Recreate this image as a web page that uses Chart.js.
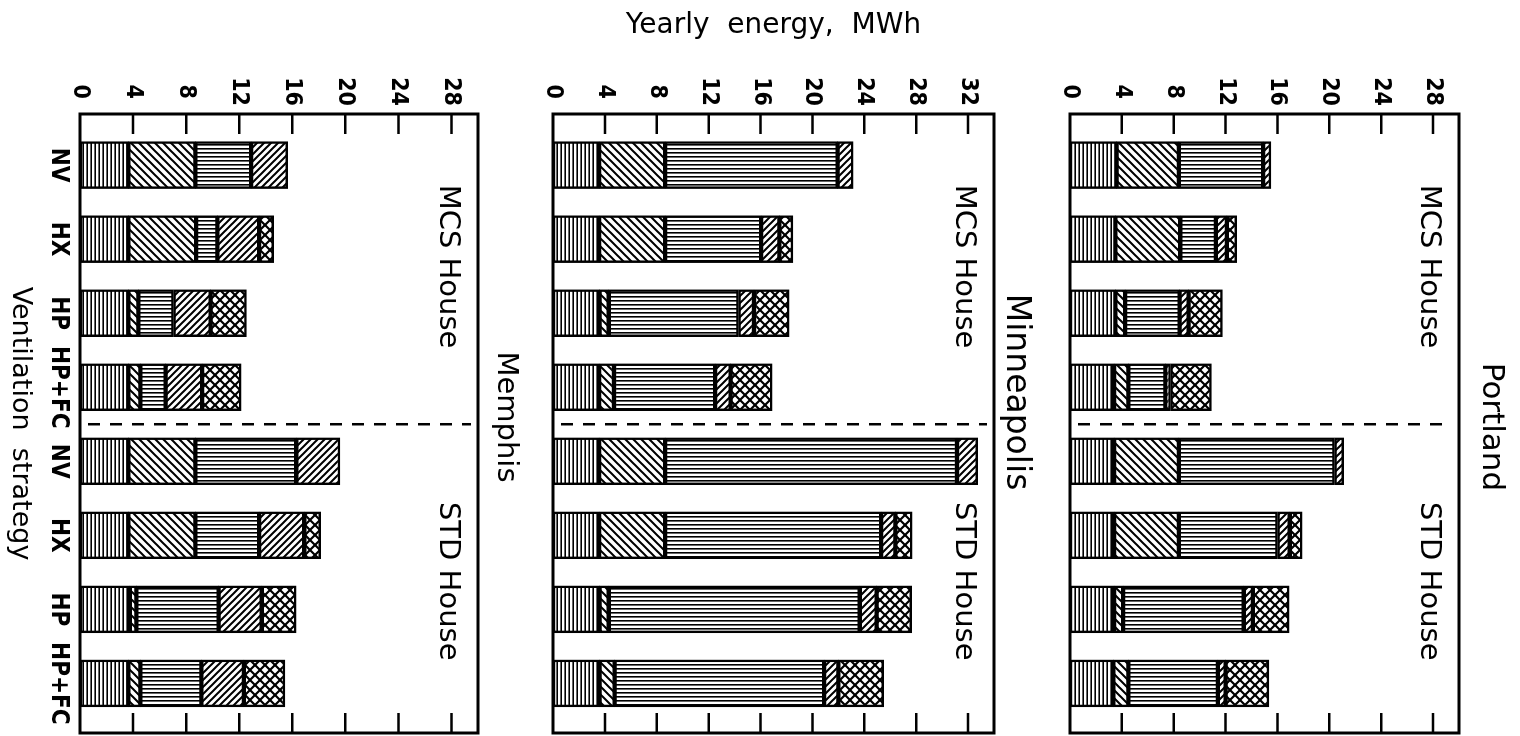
<!DOCTYPE html>
<html>
<head>
<meta charset="utf-8">
<title>Yearly energy by ventilation strategy</title>
<script src="https://cdn.jsdelivr.net/npm/chart.js@4.4.1/dist/chart.umd.min.js"></script>
<style>
  html, body { margin: 0; padding: 0; background: #fff; overflow: hidden; }
  /* the figure is laid out upright and turned a quarter turn clockwise */
  #sheet { position: absolute; left: 0; top: 0; width: 736px; height: 1520px;
           transform-origin: 0 0; transform: translateX(1520px) rotate(90deg); }
  #sheet canvas { position: absolute; left: 0; }
</style>
</head>
<body>
<div id="sheet">
  <canvas id="portland" width="736" height="490" style="top:0px"></canvas>
  <canvas id="minneapolis" width="736" height="530" style="top:470px"></canvas>
  <canvas id="memphis" width="736" height="540" style="top:980px"></canvas>
</div>
<script>
const strategies = ['NV', 'HX', 'HP', 'HP+FC', 'NV', 'HX', 'HP', 'HP+FC'];
const houses = ['MCS House', 'STD House'];

// yearly energy parts, MWh, bottom to top of each stack
const portland1 = [3.6, 3.5, 3.5, 3.4, 3.4, 3.4, 3.4, 3.35];
const portland2 = [4.8, 5.0, 0.75, 1.1, 5.0, 5.0, 0.7, 1.15];
const portland3 = [6.5, 2.75, 4.2, 2.85, 12.0, 7.6, 9.3, 6.9];
const portland4 = [0.6, 0.85, 0.7, 0.4, 0.7, 0.95, 0.7, 0.6];
const portland5 = [0, 0.75, 2.6, 3.15, 0, 0.95, 2.8, 3.35];

const minneapolis1 = [3.55, 3.55, 3.6, 3.55, 3.55, 3.55, 3.6, 3.6];
const minneapolis2 = [5.1, 5.1, 0.7, 1.15, 5.1, 5.1, 0.7, 1.15];
const minneapolis3 = [13.3, 7.4, 10.0, 7.8, 22.5, 16.65, 19.35, 16.15];
const minneapolis4 = [1.2, 1.4, 1.2, 1.2, 1.6, 1.1, 1.3, 1.1];
const minneapolis5 = [0, 1.05, 2.7, 3.2, 0, 1.3, 2.7, 3.5];

const memphis1 = [3.65, 3.65, 3.65, 3.65, 3.65, 3.65, 3.75, 3.65];
const memphis2 = [5.05, 5.1, 0.75, 0.9, 5.05, 5.05, 0.5, 0.9];
const memphis3 = [4.2, 1.6, 2.65, 1.9, 7.6, 4.8, 6.2, 4.6];
const memphis4 = [2.75, 3.15, 2.8, 2.75, 3.3, 3.4, 3.25, 3.2];
const memphis5 = [0, 1.1, 2.7, 2.95, 0, 1.25, 2.6, 3.1];

const narrowBold = "'Liberation Sans Narrow', 'DejaVu Sans Condensed', sans-serif";
const plainFont = "'DejaVu Sans', sans-serif";

// hatch fills, one per stack part
function makePattern(kind) {
    const size = { hlines: 4, vlines: 4, rise: 8, fall: 7, cross: 10 }[kind];
    const tile = document.createElement('canvas');
    tile.width = size;
    tile.height = size;
    const c = tile.getContext('2d');
    c.fillStyle = '#fff';
    c.fillRect(0, 0, size, size);
    c.fillStyle = '#000';
    c.strokeStyle = '#000';
    c.lineWidth = kind === 'cross' ? 2.2 : 2;
    const rise = () => {
        c.beginPath();
        c.moveTo(0, size); c.lineTo(size, 0);
        c.moveTo(-1, 1); c.lineTo(1, -1);
        c.moveTo(size - 1, size + 1); c.lineTo(size + 1, size - 1);
        c.stroke();
    };
    const fall = () => {
        c.beginPath();
        c.moveTo(0, 0); c.lineTo(size, size);
        c.moveTo(size - 1, -1); c.lineTo(size + 1, 1);
        c.moveTo(-1, size - 1); c.lineTo(1, size + 1);
        c.stroke();
    };
    if (kind === 'hlines') c.fillRect(0, 0, size, 1.6);
    if (kind === 'vlines') c.fillRect(0, 0, 1.6, size);
    if (kind === 'rise') rise();
    if (kind === 'fall') fall();
    if (kind === 'cross') { rise(); fall(); }
    return c.createPattern(tile, 'repeat');
}

const fills = ['hlines', 'rise', 'vlines', 'fall', 'cross'].map(makePattern);

// frame, inward tick marks, house divider and captions
const panelDecor = {
    id: 'panelDecor',
    afterDatasetsDraw(chart, args, opts) {
        const { ctx, chartArea: a, scales: { x, y } } = chart;
        ctx.save();
        ctx.strokeStyle = '#000';
        ctx.fillStyle = '#000';
        ctx.lineWidth = 3;
        ctx.strokeRect(a.left, a.top, a.width, a.height);

        ctx.lineWidth = 2.5;
        y.ticks.forEach(t => {
            if (t.value <= y.min || t.value >= y.max) return;
            const py = y.getPixelForValue(t.value);
            const len = t.value % 4 === 0 ? 20 : 9;
            ctx.beginPath();
            ctx.moveTo(a.left, py); ctx.lineTo(a.left + len, py);
            ctx.moveTo(a.right, py); ctx.lineTo(a.right - len, py);
            ctx.stroke();
        });

        const px = x.getPixelForValue(3.5);
        ctx.setLineDash([12, 10]);
        ctx.beginPath();
        ctx.moveTo(px, a.bottom - 8);
        ctx.lineTo(px, a.top + 7);
        ctx.stroke();
        ctx.setLineDash([]);

        ctx.textAlign = 'center';
        ctx.textBaseline = 'middle';
        ctx.font = '29px ' + plainFont;
        ctx.fillText(houses[0], x.getPixelForValue(1.37), a.top + 30);
        ctx.fillText(houses[1], x.getPixelForValue(5.62), a.top + 30);

        ctx.font = opts.citySize + 'px ' + plainFont;
        ctx.fillText(opts.city, opts.cityX, opts.cityY);
        ctx.restore();
    }
};

function stackSets(parts) {
    return parts.map((values, k) => ({
        label: 'part ' + (k + 1),
        data: values.map((v, i) => ({ x: i, y: v })),
        backgroundColor: fills[k],
        borderColor: '#000',
        borderWidth: 2.5,
        borderSkipped: false,
        barThickness: 47
    }));
}

function makePanel(id, parts, cfg) {
    const xAxis = {
        type: 'linear',
        stacked: true,
        offset: false,
        min: -0.69,
        max: 7.67,
        display: cfg.showStrategies,
        grid: { display: false, drawTicks: false, offset: false },
        border: { display: false },
        afterBuildTicks: axis => { axis.ticks = strategies.map((s, i) => ({ value: i })); },
        afterFit: scale => { if (cfg.showStrategies) scale.height = 80; },
        ticks: {
            autoSkip: false,
            maxRotation: 0,
            padding: 7,
            color: '#000',
            font: { family: narrowBold, size: 24, weight: 'bold' },
            callback: v => strategies[v]
        },
        title: {
            display: cfg.showStrategies,
            text: 'Ventilation  strategy',
            color: '#000',
            font: { family: plainFont, size: 27 },
            padding: { top: 0, bottom: 4 }
        }
    };
    return new Chart(document.getElementById(id), {
        type: 'bar',
        data: { datasets: stackSets(parts) },
        options: {
            responsive: false,
            animation: false,
            events: [],
            layout: { padding: { top: cfg.top, bottom: cfg.bottom, left: 0, right: 3 } },
            plugins: {
                legend: { display: false },
                tooltip: { enabled: false },
                panelDecor: { city: cfg.city, cityX: cfg.cityX, cityY: cfg.cityY, citySize: cfg.citySize }
            },
            scales: {
                x: xAxis,
                y: {
                    stacked: true,
                    min: 0,
                    max: cfg.max,
                    grid: { display: false, drawTicks: false },
                    border: { display: false },
                    afterFit: scale => { scale.width = 114; },
                    ticks: {
                        stepSize: 2,
                        crossAlign: 'center',
                        padding: 8,
                        color: '#000',
                        font: { family: narrowBold, size: 23, weight: 'bold' },
                        callback: v => (v % 4 === 0 ? v : '')
                    },
                    title: {
                        display: cfg.showEnergyTitle,
                        text: 'Yearly  energy,  MWh',
                        color: '#000',
                        font: { family: plainFont, size: 28 },
                        padding: { top: 9, bottom: 0 }
                    }
                }
            }
        },
        plugins: [panelDecor]
    });
}

makePanel('portland', [portland1, portland2, portland3, portland4, portland5], {
    city: 'Portland', cityX: 427, cityY: 29, citySize: 31,
    max: 30, top: 61, bottom: 40, showStrategies: false, showEnergyTitle: false
});
makePanel('minneapolis', [minneapolis1, minneapolis2, minneapolis3, minneapolis4, minneapolis5], {
    city: 'Minneapolis', cityX: 392, cityY: 34, citySize: 33,
    max: 34, top: 56, bottom: 33, showStrategies: false, showEnergyTitle: true
});
makePanel('memphis', [memphis1, memphis2, memphis3, memphis4, memphis5], {
    city: 'Memphis', cityX: 417, cityY: 34, citySize: 29,
    max: 30, top: 62, bottom: 0, showStrategies: true, showEnergyTitle: false
});
</script>
</body>
</html>
